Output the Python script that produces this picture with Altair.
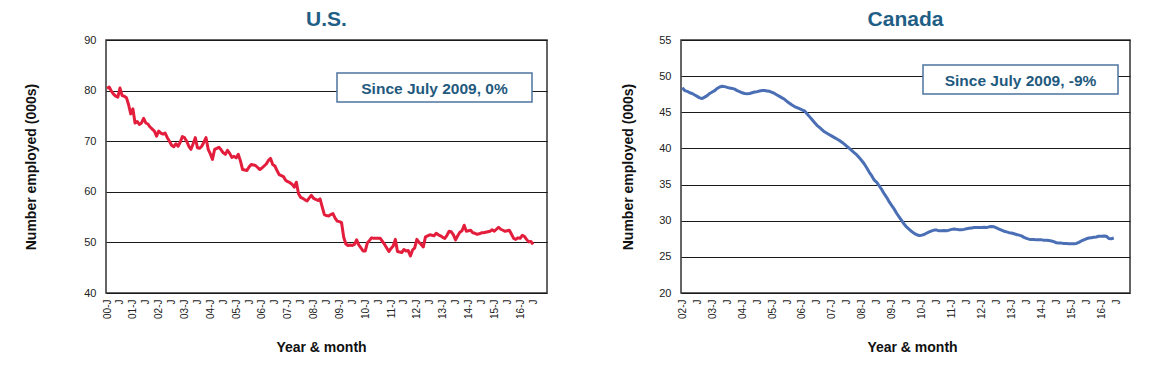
import altair as alt
import pandas as pd

# ---------------- data (monthly) ----------------
# U.S.: Jan 2000 .. Jul 2016
us_values = [
    80.4, 80.7, 79.9, 79.3, 78.9, 78.7, 80.5, 79.0, 78.9, 78.6, 77.2, 75.4,
    76.4, 73.6, 73.9, 73.3, 73.6, 74.5, 73.6, 73.4, 72.8, 72.4, 72.0, 71.0,
    72.0, 71.6, 71.4, 71.6, 70.7, 70.0, 69.2, 68.9, 69.5, 69.0, 69.8, 70.9,
    70.7, 70.0, 69.0, 68.4, 69.5, 70.7, 68.7, 68.6, 69.0, 69.8, 70.7, 68.4,
    67.5, 66.4, 68.4, 68.6, 68.8, 68.3, 67.7, 67.4, 68.2, 67.6, 66.8, 67.0,
    66.7, 67.4, 66.1, 64.4, 64.3, 64.2, 64.9, 65.4, 65.3, 65.2, 64.8, 64.4,
    64.7, 65.1, 65.5, 66.2, 66.6, 65.4, 65.1, 64.2, 63.4, 63.2, 63.0, 62.3,
    62.0, 61.8, 61.5, 60.9, 61.9, 59.6, 58.9, 58.7, 58.4, 58.2, 58.8, 59.3,
    58.7, 58.5, 58.3, 58.6, 57.0, 55.5, 55.3, 55.2, 55.5, 55.7, 54.8, 54.2,
    54.1, 53.9, 51.0, 49.7, 49.4, 49.5, 49.4, 49.6, 50.5, 49.5, 48.9, 48.3,
    48.3, 49.9, 50.4, 50.9, 50.8, 50.8, 50.8, 50.8, 50.2, 49.6, 48.9, 48.2,
    48.8, 49.3, 50.6, 48.2, 48.1, 48.0, 48.6, 48.3, 48.4, 47.3, 48.5, 48.9,
    50.6, 50.0, 49.6, 49.1, 51.1, 51.3, 51.5, 51.4, 51.3, 51.8, 51.5, 51.3,
    51.0, 50.8, 51.4, 52.2, 52.1, 51.5, 50.5, 51.3, 52.0, 52.3, 53.4, 52.2,
    52.3, 52.4, 51.9, 51.8, 51.6, 51.7, 51.9, 51.9, 52.0, 52.1, 52.2, 52.5,
    52.2, 52.6, 53.0, 52.6, 52.4, 52.2, 52.3, 52.4, 51.6, 50.8, 50.6, 50.9,
    50.8, 51.4, 51.2, 50.6, 50.1, 50.2, 49.6,
]

# Canada: Jan 2002 .. Jun 2016
ca_values = [
    48.4, 48.0, 47.9, 47.7, 47.6, 47.4, 47.2, 47.0, 46.9, 47.1, 47.3, 47.6,
    47.8, 48.0, 48.3, 48.5, 48.6, 48.55, 48.45, 48.35, 48.3, 48.2, 48.0, 47.85,
    47.7, 47.6, 47.55, 47.6, 47.7, 47.8, 47.85, 47.95, 48.0, 48.0, 47.95, 47.9,
    47.75, 47.6, 47.4, 47.2, 47.0, 46.8, 46.5, 46.25, 46.0, 45.8, 45.65, 45.5,
    45.35, 45.2, 44.8, 44.4, 44.0, 43.6, 43.2, 42.9, 42.6, 42.3, 42.1, 41.9,
    41.7, 41.5, 41.3, 41.1, 40.85, 40.6, 40.3, 40.0, 39.7, 39.4, 39.1, 38.7,
    38.3, 37.85, 37.3, 36.7, 36.2, 35.6, 35.3, 34.8, 34.3, 33.7, 33.2, 32.6,
    32.1, 31.6, 31.0, 30.5, 30.0, 29.5, 29.1, 28.8, 28.5, 28.25, 28.05, 27.95,
    28.0, 28.1, 28.3, 28.45, 28.6, 28.7, 28.7, 28.6, 28.6, 28.65, 28.6, 28.7,
    28.8, 28.85, 28.8, 28.75, 28.75, 28.8, 28.9, 28.95, 29.0, 29.05, 29.05, 29.05,
    29.05, 29.1, 29.05, 29.15, 29.2, 29.15, 29.0, 28.85, 28.7, 28.55, 28.45, 28.35,
    28.3, 28.2, 28.1, 28.0, 27.9, 27.7, 27.55, 27.45, 27.4, 27.4, 27.35, 27.35,
    27.35, 27.3, 27.3, 27.25, 27.2, 27.1, 26.95, 26.9, 26.9, 26.85, 26.85, 26.8,
    26.8, 26.8, 26.85, 27.0, 27.2, 27.35, 27.5, 27.6, 27.65, 27.7, 27.75, 27.85,
    27.85, 27.9, 27.85, 27.55, 27.5, 27.6,
]

us_tick_labels = [
    "00-J", "J", "01-J", "J", "02-J", "J", "03-J", "J", "04-J", "J", "05-J", "J",
    "06-J", "J", "07-J", "J", "08-J", "J", "09-J", "J", "10-J", "J", "11-J", "J",
    "12-J", "J", "13-J", "J", "14-J", "J", "15-J", "J", "16-J", "J",
]
ca_tick_labels = [
    "02-J", "J", "03-J", "J", "04-J", "J", "05-J", "J", "06-J", "J", "07-J", "J",
    "08-J", "J", "09-J", "J", "10-J", "J", "11-J", "J", "12-J", "J", "13-J", "J",
    "14-J", "J", "15-J", "J", "16-J", "J",
]

us_yticks = [40, 50, 60, 70, 80, 90]
ca_yticks = [20, 25, 30, 35, 40, 45, 50, 55]

titles = ["U.S.", "Canada"]
notes = ["Since July 2009, 0%", "Since July 2009, -9%"]
x_title = "Year & month"
y_title = "Number employed (000s)"

FONT = "Liberation Sans"
TITLE_COLOR = "#1F5E85"
NOTE_COLOR = "#1F5A7E"
PLOT_H = 253


def panel(values, tick_labels, yticks, xdom, color, title, note, width,
          box, x_title_x, y_title_pad):
    df = pd.DataFrame({"month": list(range(len(values))), "value": values})
    ticks = [6 * i for i in range(len(tick_labels))]
    label_expr = "[" + ",".join("'%s'" % s for s in tick_labels) + "][round(datum.value/6)]"

    line = alt.Chart(df).mark_line(
        color=color, strokeWidth=3, strokeJoin="round", clip=True
    ).encode(
        x=alt.X(
            "month:Q",
            scale=alt.Scale(domain=xdom, nice=False, zero=False),
            axis=alt.Axis(
                values=ticks, labelExpr=label_expr, labelAngle=270,
                labelAlign="right", labelBaseline="middle", labelPadding=6,
                labelFontSize=10, labelFont=FONT, labelColor="#222",
                labelOverlap=False, labelFlush=False, ticks=False,
                domain=False, grid=False, title=x_title, titleFont=FONT,
                titleFontSize=14, titleFontWeight="bold", titleColor="#111",
                titlePadding=22, titleX=x_title_x, titleAlign="center",
            ),
        ),
        y=alt.Y(
            "value:Q",
            scale=alt.Scale(domain=[yticks[0], yticks[-1]], nice=False, zero=False),
            axis=alt.Axis(
                values=yticks, grid=True, gridColor="#1a1a1a", gridWidth=1,
                ticks=False, domain=False, labelPadding=10, labelFontSize=11,
                labelFont=FONT, labelColor="#222", title=y_title,
                titleFont=FONT, titleFontSize=14, titleFontWeight="bold",
                titleColor="#111", titlePadding=y_title_pad,
            ),
        ),
    )

    note_df = pd.DataFrame({"note": [note]})
    x0, x1, y0, y1 = box
    rect = alt.Chart(note_df).mark_rect(
        fill="white", stroke="#4F74A0", strokeWidth=1.5
    ).encode(x=alt.value(x0), x2=alt.value(x1), y=alt.value(y0), y2=alt.value(y1))
    txt = alt.Chart(note_df).mark_text(
        font=FONT, fontSize=15.5, fontWeight="bold", color=NOTE_COLOR,
        align="center", baseline="middle"
    ).encode(x=alt.value((x0 + x1) / 2), y=alt.value((y0 + y1) / 2 + 1), text="note:N")

    return alt.layer(line, rect, txt).properties(
        width=width,
        height=PLOT_H,
        title=alt.TitleParams(
            title, font=FONT, fontSize=21, fontWeight="bold", color=TITLE_COLOR,
            anchor="middle", offset=4,
        ),
    )


us = panel(us_values, us_tick_labels, us_yticks, [-0.5, 204.5], "#E31E3C",
           titles[0], notes[0], 441, (231, 426, 33, 62), 215, 45)
ca = panel(ca_values, ca_tick_labels, ca_yticks, [-0.5, 179.5], "#4A6FB5",
           titles[1], notes[1], 449, (242, 437, 25, 54), 231, 23)

chart = alt.hconcat(us, ca, spacing=73).properties(
    padding={"left": 16, "top": 0, "right": 0, "bottom": 0}
).configure_view(stroke="#333", strokeWidth=1.5)

chart.save("out.html", embed_options={"renderer": "svg", "actions": False})
